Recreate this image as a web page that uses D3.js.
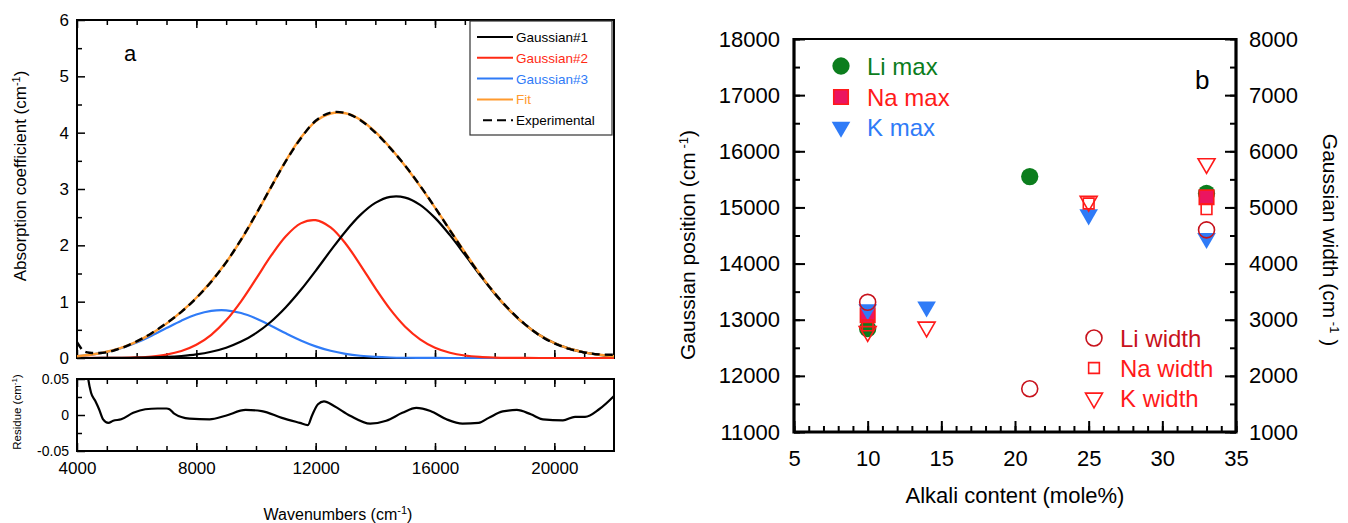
<!DOCTYPE html>
<html>
<head>
<meta charset="utf-8">
<title>Gaussian fit / alkali content</title>
<script src="https://cdn.jsdelivr.net/npm/d3@7"></script>
<style>
  body { margin: 0; background: #fff; }
  svg text { font-family: "Liberation Sans", Arial, Helvetica, sans-serif; }
</style>
</head>
<body>
<svg id="chart" width="1348" height="523"></svg>
<script>
// ---------- panel a data ----------
var wn = d3.range(4000, 22001, 500);   // sampling grid of the curves
var gauss1 = [0, 0, 0.001, 0.002, 0.005, 0.010, 0.019, 0.036, 0.064, 0.111,
  0.183, 0.291, 0.442, 0.644, 0.901, 1.206, 1.548, 1.905, 2.247, 2.540,
  2.753, 2.860, 2.848, 2.719, 2.487, 2.181, 1.834, 1.478, 1.141, 0.845,
  0.600, 0.408, 0.266, 0.166, 0.100, 0.057, 0.032];
var gauss2 = [0, 0.001, 0.002, 0.004, 0.011, 0.027, 0.060, 0.123, 0.234, 0.412,
  0.669, 1.007, 1.404, 1.811, 2.162, 2.390, 2.446, 2.317, 2.033, 1.650,
  1.240, 0.863, 0.556, 0.332, 0.183, 0.094, 0.044, 0.019, 0.008, 0.003,
  0.001, 0, 0, 0, 0, 0, 0];
var gauss3 = [0.032, 0.061, 0.108, 0.179, 0.276, 0.396, 0.531, 0.663, 0.772, 0.837,
  0.847, 0.798, 0.701, 0.574, 0.438, 0.312, 0.207, 0.128, 0.074, 0.040,
  0.020, 0.009, 0.004, 0.002, 0.001, 0, 0, 0, 0, 0,
  0, 0, 0, 0, 0, 0, 0];
var fit = [0.032, 0.062, 0.111, 0.185, 0.292, 0.433, 0.610, 0.822, 1.070, 1.360,
  1.699, 2.096, 2.547, 3.029, 3.501, 3.908, 4.201, 4.340, 4.344, 4.230,
  4.013, 3.732, 3.408, 3.051, 2.670, 2.275, 1.878, 1.497, 1.149, 0.848,
  0.601, 0.408, 0.266, 0.166, 0.100, 0.057, 0.032];
var expWn = [4000, 4100, 4200, 4350].concat(d3.range(4500, 22001, 500));
var expVal = [0.28, 0.20, 0.13, 0.10, 0.09, 0.101, 0.179, 0.296, 0.441, 0.619,
  0.819, 1.064, 1.354, 1.698, 2.102, 2.554, 3.030, 3.495, 3.897, 4.211,
  4.357, 4.347, 4.221, 4.002, 3.726, 3.414, 3.060, 2.672, 2.267, 1.866,
  1.487, 1.149, 0.855, 0.606, 0.404, 0.259, 0.161, 0.098, 0.065, 0.059];
var resWn = [4000, 4250, 4377, 4471, 4606, 4740, 4875, 5050, 5212, 5481,
  5885, 6289, 6700, 7000, 7100, 7258, 7770, 8443, 8981, 9654,
  10193, 10866, 11471, 11740, 11875, 12077, 12279, 12616, 13154, 13827,
  14366, 14904, 15375, 15847, 16385, 16924, 17462, 17799, 18270, 18741,
  19212, 19616, 20289, 20693, 21030, 21501, 22000];
var resVal = [0.25, 0.10, 0.05, 0.031, 0.020, 0.008, -0.006, -0.011, -0.008, -0.006,
  0.003, 0.008, 0.009, 0.009, 0.008, 0.002, -0.005, -0.006, -0.001, 0.007,
  0.0055, -0.004, -0.011, -0.014, -0.001, 0.015, 0.019, 0.0125, -0.001, -0.012,
  -0.008, 0.003, 0.010, 0.0055, -0.006, -0.012, -0.011, -0.004, 0.005, 0.007,
  0.001, -0.006, -0.0075, -0.0025, -0.0025, 0.008, 0.0265];

var wnTicks = [4000, 8000, 12000, 16000, 20000];
var wnMinor = d3.range(5000, 22000, 1000);
var absTicks = [0, 1, 2, 3, 4, 5, 6];
var absMinor = [0.5, 1.5, 2.5, 3.5, 4.5, 5.5];
var resTicks = [-0.05, 0, 0.05];
var resMinor = [-0.025, 0.025];
var legendA = ["Gaussian#1", "Gaussian#2", "Gaussian#3", "Fit", "Experimental"];

// ---------- panel b data ----------
var liMaxX = [10, 21, 33],      liMaxY = [12840, 15550, 15250];
var naMaxX = [10, 33],          naMaxY = [13080, 15180];
var kMaxX  = [10, 14, 25, 33],  kMaxY  = [13180, 13230, 14870, 14450];
var liWidX = [10, 21, 33],      liWidY = [3310, 1770, 4600];
var naWidX = [10, 25, 33],      naWidY = [2900, 5070, 4970];
var kWidX  = [10, 14, 25, 33],  kWidY  = [2790, 2870, 5110, 5780];

var alkTicks = [5, 10, 15, 20, 25, 30, 35];
var posTicks = [11000, 12000, 13000, 14000, 15000, 16000, 17000, 18000];
var widTicks = [1000, 2000, 3000, 4000, 5000, 6000, 7000, 8000];

var svg = d3.select("#chart");

// =============== panel a ===============
var xA = d3.scaleLinear().domain([4000, 22000]).range([77, 614]);
var yA = d3.scaleLinear().domain([0, 6]).range([358, 20]);
var yR = d3.scaleLinear().domain([-0.05, 0.05]).range([451, 379]);

var defs = svg.append("defs");
defs.append("clipPath").attr("id", "clipA").append("rect")
  .attr("x", 77).attr("y", 19).attr("width", 537).attr("height", 340);
defs.append("clipPath").attr("id", "clipR").append("rect")
  .attr("x", 77).attr("y", 379).attr("width", 537).attr("height", 72);

function styleAxis(g, fs, sw) {
  g.select(".domain").remove();
  g.selectAll("line").attr("stroke", "#000").attr("stroke-width", sw);
  g.selectAll("text").attr("font-size", fs).attr("fill", "#000")
    .attr("font-family", "Liberation Sans, Arial, sans-serif");
}

// main axes
svg.append("g").attr("transform", "translate(77,0)")
  .call(d3.axisLeft(yA).tickValues(absTicks).tickSize(-8).tickPadding(8).tickFormat(d3.format("d")))
  .call(styleAxis, 17, 1.5);
svg.append("g").attr("transform", "translate(77,0)")
  .call(d3.axisLeft(yA).tickValues(absMinor).tickSize(-5).tickFormat(""))
  .call(styleAxis, 17, 1.5);
[[20, "top"], [358, "bottom"]].forEach(function (p) {
  var mk = p[1] === "top" ? d3.axisTop : d3.axisBottom;
  svg.append("g").attr("transform", "translate(0," + p[0] + ")")
    .call(mk(xA).tickValues(wnTicks).tickSize(-8).tickFormat(""))
    .call(styleAxis, 17, 1.5);
  svg.append("g").attr("transform", "translate(0," + p[0] + ")")
    .call(mk(xA).tickValues(wnMinor).tickSize(-5).tickFormat(""))
    .call(styleAxis, 17, 1.5);
});

// residue axes
svg.append("g").attr("transform", "translate(77,0)")
  .call(d3.axisLeft(yR).tickValues(resTicks).tickSize(-8).tickPadding(8)
    .tickFormat(function (d) { return d === 0 ? "0" : String(d); }))
  .call(styleAxis, 14, 1.5);
svg.append("g").attr("transform", "translate(77,0)")
  .call(d3.axisLeft(yR).tickValues(resMinor).tickSize(-5).tickFormat(""))
  .call(styleAxis, 14, 1.5);
svg.append("g").attr("transform", "translate(0,451)")
  .call(d3.axisBottom(xA).tickValues(wnTicks).tickSize(-8).tickPadding(11).tickFormat(d3.format("d")))
  .call(styleAxis, 17, 1.5);
svg.append("g").attr("transform", "translate(0,451)")
  .call(d3.axisBottom(xA).tickValues(wnMinor).tickSize(-5).tickFormat(""))
  .call(styleAxis, 17, 1.5);
svg.append("g").attr("transform", "translate(0,379)")
  .call(d3.axisTop(xA).tickValues(wnTicks).tickSize(-8).tickFormat(""))
  .call(styleAxis, 17, 1.5);
svg.append("g").attr("transform", "translate(0,379)")
  .call(d3.axisTop(xA).tickValues(wnMinor).tickSize(-5).tickFormat(""))
  .call(styleAxis, 17, 1.5);

// frames
svg.append("rect").attr("x", 77).attr("y", 20).attr("width", 537).attr("height", 338)
  .attr("fill", "none").attr("stroke", "#000").attr("stroke-width", 2);
svg.append("rect").attr("x", 77).attr("y", 379).attr("width", 537).attr("height", 72)
  .attr("fill", "none").attr("stroke", "#000").attr("stroke-width", 2);

var lineA = d3.line().x(function (d) { return xA(d[0]); }).y(function (d) { return yA(d[1]); })
  .curve(d3.curveCatmullRom);
function zip(xs, ys) { return xs.map(function (x, i) { return [x, ys[i]]; }); }

var curvesA = svg.append("g").attr("clip-path", "url(#clipA)");
var colG1 = "#000000", colG2 = "#ff2a14", colG3 = "#2f7bf7", colFit = "#ff9a2e";
curvesA.append("path").attr("d", lineA(zip(wn, gauss3))).attr("fill", "none").attr("stroke", colG3).attr("stroke-width", 2.2);
curvesA.append("path").attr("d", lineA(zip(wn, gauss2))).attr("fill", "none").attr("stroke", colG2).attr("stroke-width", 2.2);
curvesA.append("path").attr("d", lineA(zip(wn, gauss1))).attr("fill", "none").attr("stroke", colG1).attr("stroke-width", 2.2);
curvesA.append("path").attr("d", lineA(zip(wn, fit))).attr("fill", "none").attr("stroke", colFit).attr("stroke-width", 2.4);
curvesA.append("path").attr("d", lineA(zip(expWn, expVal))).attr("fill", "none").attr("stroke", "#000")
  .attr("stroke-width", 2.4).attr("stroke-dasharray", "8,5");

var lineR = d3.line().x(function (d) { return xA(d[0]); }).y(function (d) { return yR(d[1]); })
  .curve(d3.curveMonotoneX);
svg.append("g").attr("clip-path", "url(#clipR)").append("path")
  .attr("d", lineR(zip(resWn, resVal))).attr("fill", "none").attr("stroke", "#000").attr("stroke-width", 2.2);

// legend a
var legA = svg.append("g");
legA.append("rect").attr("x", 470).attr("y", 21).attr("width", 142).attr("height", 114)
  .attr("fill", "#fff").attr("stroke", "#333").attr("stroke-width", 1.2);
var legCols = [colG1, colG2, colG3, colFit, "#000"];
legendA.forEach(function (name, i) {
  var y = 37 + i * 20.8;
  legA.append("line").attr("x1", i === 4 ? 483 : 477).attr("x2", 513).attr("y1", y).attr("y2", y)
    .attr("stroke", legCols[i]).attr("stroke-width", 2).attr("stroke-dasharray", i === 4 ? "9,5" : null);
  legA.append("text").attr("x", 516).attr("y", y + 5).attr("font-size", 13.5)
    .attr("fill", i === 4 ? "#000" : legCols[i]).text(name);
});

svg.append("text").attr("x", 124).attr("y", 61).attr("font-size", 22).text("a");

var tA = svg.append("text").attr("transform", "translate(26,176) rotate(-90)")
  .attr("text-anchor", "middle").attr("font-size", 17).text("Absorption coefficient (cm");
tA.append("tspan").attr("baseline-shift", "super").attr("font-size", 11).text("-1");
tA.append("tspan").text(")");
var tR = svg.append("text").attr("transform", "translate(21,412) rotate(-90)")
  .attr("text-anchor", "middle").attr("font-size", 11.5).text("Residue (cm");
tR.append("tspan").attr("baseline-shift", "super").attr("font-size", 8).text("-1");
tR.append("tspan").text(")");
var tW = svg.append("text").attr("x", 338).attr("y", 520)
  .attr("text-anchor", "middle").attr("font-size", 16).text("Wavenumbers (cm");
tW.append("tspan").attr("baseline-shift", "super").attr("font-size", 11).text("-1");
tW.append("tspan").text(")");

// =============== panel b ===============
var xB = d3.scaleLinear().domain([5, 35]).range([794, 1236]);
var yPos = d3.scaleLinear().domain([11000, 18000]).range([432, 39]);
var yWid = d3.scaleLinear().domain([1000, 8000]).range([432, 39]);

svg.append("g").attr("transform", "translate(0,432)")
  .call(d3.axisBottom(xB).tickValues(alkTicks).tickSize(-11).tickPadding(18).tickFormat(d3.format("d")))
  .call(styleAxis, 22, 2);
svg.append("g").attr("transform", "translate(0,432)")
  .call(d3.axisBottom(xB).ticks(30).tickSize(-6).tickFormat(""))
  .call(styleAxis, 22, 2);
svg.append("g").attr("transform", "translate(794,0)")
  .call(d3.axisLeft(yPos).tickValues(posTicks).tickSize(-11).tickPadding(14).tickFormat(d3.format("d")))
  .call(styleAxis, 22, 2);
svg.append("g").attr("transform", "translate(794,0)")
  .call(d3.axisLeft(yPos).ticks(14).tickSize(-6).tickFormat(""))
  .call(styleAxis, 22, 2);
svg.append("g").attr("transform", "translate(1236,0)")
  .call(d3.axisRight(yWid).tickValues(widTicks).tickSize(-11).tickPadding(13).tickFormat(d3.format("d")))
  .call(styleAxis, 22, 2);
svg.append("g").attr("transform", "translate(1236,0)")
  .call(d3.axisRight(yWid).ticks(14).tickSize(-6).tickFormat(""))
  .call(styleAxis, 22, 2);

svg.append("line").attr("x1", 794).attr("x2", 1236).attr("y1", 39).attr("y2", 39)
  .attr("stroke", "#000").attr("stroke-width", 2);
svg.append("path").attr("d", "M794,38V432H1236V38").attr("fill", "none")
  .attr("stroke", "#000").attr("stroke-width", 3.2);

var green = "#0b7d1d", red = "#ff1a1a", pink = "#eb1560", blue = "#2f7bf7", dkred = "#c8121c";

var seriesB = [
  { xs: liMaxX, ys: liMaxY, axis: yPos, type: d3.symbolCircle, size: 235, fill: green, stroke: "none", rot: 0 },
  { xs: naMaxX, ys: naMaxY, axis: yPos, type: d3.symbolSquare, size: 210, fill: pink, stroke: red, rot: 0 },
  { xs: kMaxX,  ys: kMaxY,  axis: yPos, type: d3.symbolTriangle, size: 150, fill: blue, stroke: "none", rot: 180 },
  { xs: liWidX, ys: liWidY, axis: yWid, type: d3.symbolCircle, size: 200, fill: "none", stroke: dkred, rot: 0 },
  { xs: naWidX, ys: naWidY, axis: yWid, type: d3.symbolSquare, size: 115, fill: "none", stroke: red, rot: 0 },
  { xs: kWidX,  ys: kWidY,  axis: yWid, type: d3.symbolTriangle, size: 125, fill: "none", stroke: red, rot: 180 }
];
var legB = [
  { label: "Li max",   color: green, x: 841,  y: 66 },
  { label: "Na max",   color: red,   x: 841,  y: 97 },
  { label: "K max",    color: blue,  x: 841,  y: 127 },
  { label: "Li width", color: dkred, x: 1094, y: 338 },
  { label: "Na width", color: red,   x: 1094, y: 368 },
  { label: "K width",  color: red,   x: 1094, y: 398 }
];

function drawMark(g, s, x, y) {
  g.append("path").attr("d", d3.symbol(s.type, s.size)())
    .attr("transform", "translate(" + x + "," + y + ") rotate(" + s.rot + ")")
    .attr("fill", s.fill).attr("stroke", s.stroke).attr("stroke-width", 1.6);
}
var marks = svg.append("g");
seriesB.forEach(function (s, k) {
  s.xs.forEach(function (v, i) { drawMark(marks, s, xB(v), s.axis(s.ys[i])); });
  var L = legB[k];
  drawMark(marks, s, L.x, L.y);
  svg.append("text").attr("x", L.x + 26).attr("y", L.y + 9).attr("font-size", 24)
    .attr("fill", L.color).text(L.label);
});

svg.append("text").attr("x", 1195).attr("y", 89).attr("font-size", 26).text("b");

var tP = svg.append("text").attr("transform", "translate(695,245) rotate(-90)")
  .attr("text-anchor", "middle").attr("font-size", 21).text("Gaussian position (cm");
tP.append("tspan").attr("baseline-shift", "super").attr("font-size", 13).text(" -1");
tP.append("tspan").text(")");
var tG = svg.append("text").attr("transform", "translate(1323,240) rotate(90)")
  .attr("text-anchor", "middle").attr("font-size", 21).text("Gaussian width (cm");
tG.append("tspan").attr("baseline-shift", "super").attr("font-size", 13).text(" -1");
tG.append("tspan").text(" )");
svg.append("text").attr("x", 1015).attr("y", 503).attr("text-anchor", "middle")
  .attr("font-size", 22).text("Alkali content (mole%)");
</script>
</body>
</html>
